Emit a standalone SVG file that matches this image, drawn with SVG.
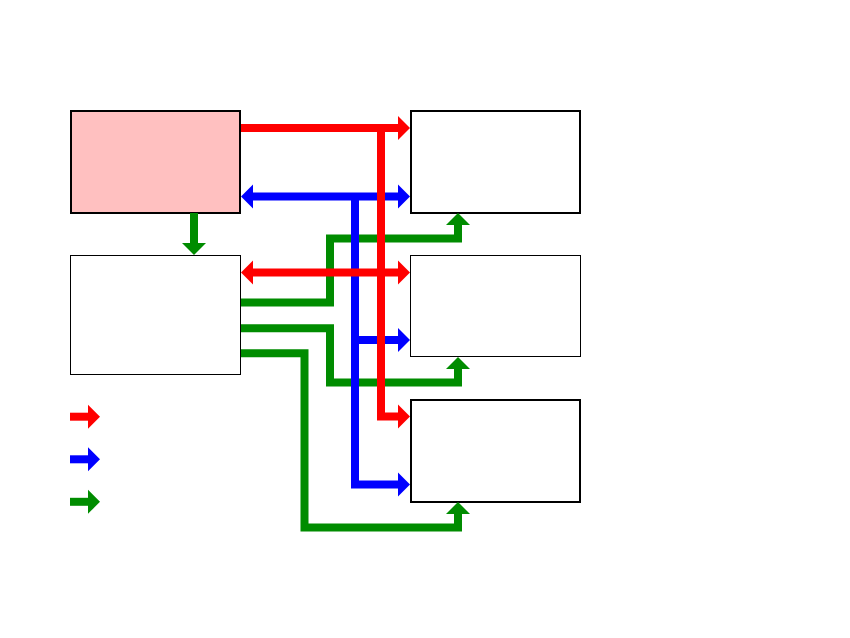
<svg xmlns="http://www.w3.org/2000/svg" width="850" height="638" viewBox="0 0 850 638">
<style>
.box{stroke:#000;}
.thick{stroke-width:2;}
.thin{stroke-width:1;}
.ln{fill:none;stroke-width:8;stroke-linejoin:miter;stroke-linecap:butt;}
.r{stroke:#FF0000;}
.b{stroke:#0000FF;}
.g{stroke:#008C00;}
</style>
<defs>
<marker id="mr" markerUnits="userSpaceOnUse" markerWidth="12" markerHeight="24" refX="0" refY="12" orient="auto-start-reverse" overflow="visible"><path d="M0,0 L12,12 L0,24 Z" fill="#FF0000"/></marker>
<marker id="mb" markerUnits="userSpaceOnUse" markerWidth="12" markerHeight="24" refX="0" refY="12" orient="auto-start-reverse" overflow="visible"><path d="M0,0 L12,12 L0,24 Z" fill="#0000FF"/></marker>
<marker id="mg" markerUnits="userSpaceOnUse" markerWidth="12" markerHeight="24" refX="0" refY="12" orient="auto-start-reverse" overflow="visible"><path d="M0,0 L12,12 L0,24 Z" fill="#008C00"/></marker>
</defs>
<rect width="850" height="638" fill="#fff"/>
<g id="nodeA"><rect class="box thick" x="71" y="111" width="169" height="102" fill="#FFC0C0"/></g>
<g id="nodeB"><rect class="box thick" x="411" y="111" width="169" height="102" fill="#fff"/></g>
<g id="nodeC"><rect class="box thin" x="70.5" y="255.5" width="170" height="119" fill="#fff"/></g>
<g id="nodeD"><rect class="box thin" x="410.5" y="255.5" width="170" height="101" fill="#fff"/></g>
<g id="nodeE"><rect class="box thick" x="411" y="400" width="169" height="102" fill="#fff"/></g>
<g id="connectors">
<path class="ln g" d="M194,213 V243" marker-end="url(#mg)"/>
<path class="ln g" d="M241,302.5 H330 V238.5 H458 V225" marker-end="url(#mg)"/>
<path class="ln g" d="M241,328.3 H330 V382.5 H458 V369" marker-end="url(#mg)"/>
<path class="ln g" d="M241,353.3 H304.5 V527.5 H458 V514" marker-end="url(#mg)"/>
<path class="ln b" d="M253,196.5 H398" marker-start="url(#mb)" marker-end="url(#mb)"/>
<path class="ln b" d="M355,196.5 V484.5 H398" marker-end="url(#mb)"/>
<path class="ln b" d="M355,340 H398" marker-end="url(#mb)"/>
<path class="ln r" d="M241,128 H398" marker-end="url(#mr)"/>
<path class="ln r" d="M381,128 V416.5 H398" marker-end="url(#mr)"/>
<path class="ln r" d="M253,272.5 H398" marker-start="url(#mr)" marker-end="url(#mr)"/>
</g>
<g id="legend">
<path class="ln r" d="M70,416.7 H88" marker-end="url(#mr)"/>
<path class="ln b" d="M70,459.3 H88" marker-end="url(#mb)"/>
<path class="ln g" d="M70,501.8 H88" marker-end="url(#mg)"/>
</g>
</svg>
